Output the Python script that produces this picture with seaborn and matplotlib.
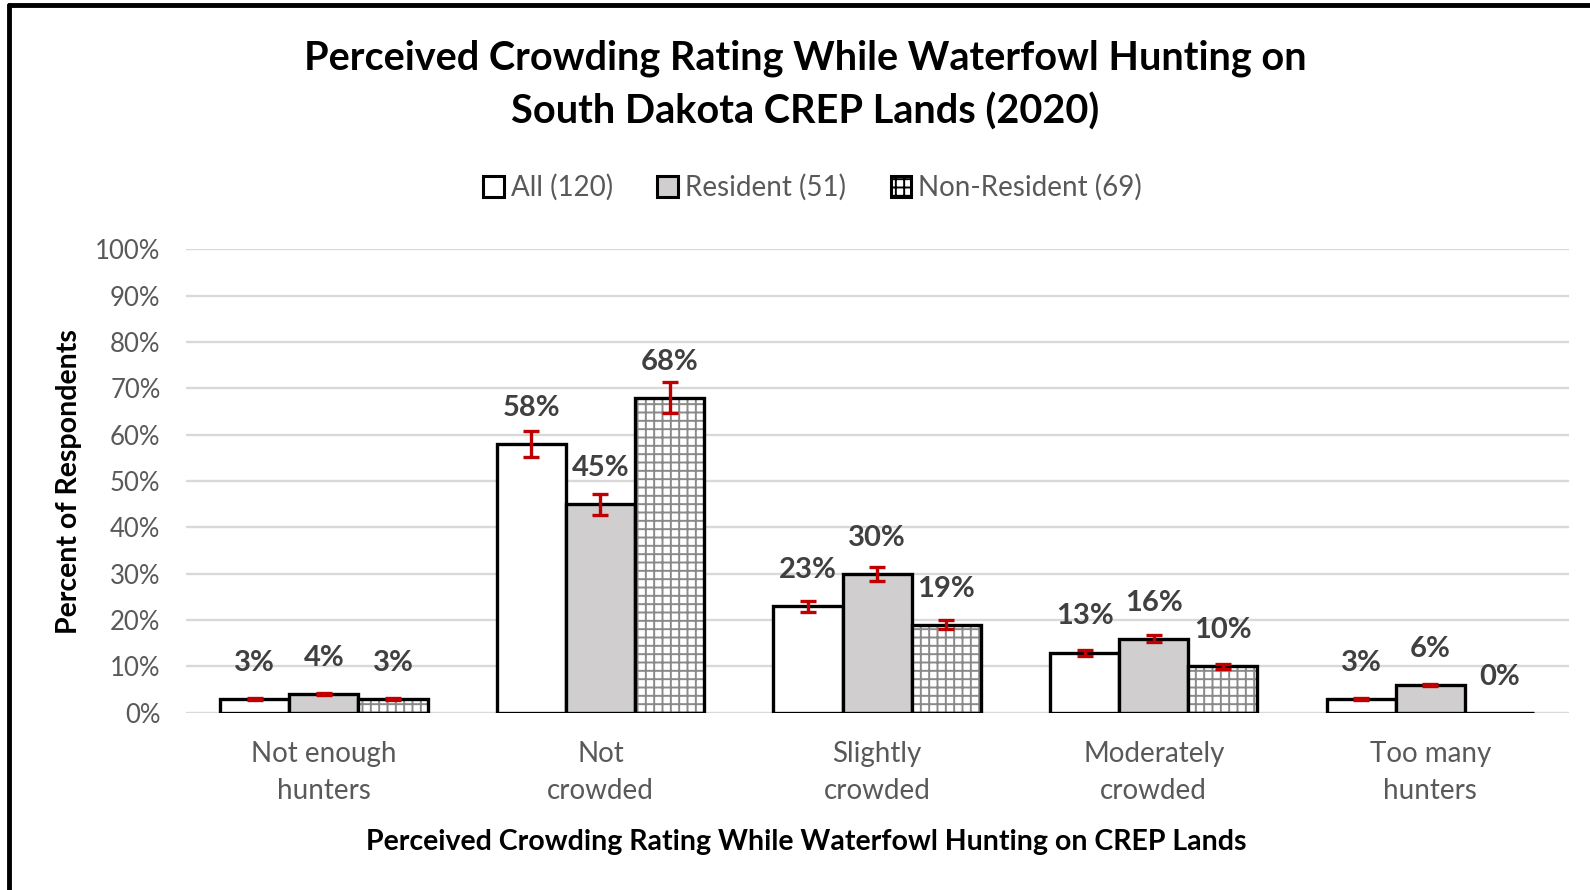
import numpy as np
import pandas as pd
import seaborn as sns
import matplotlib.pyplot as plt
from matplotlib.patches import Patch, Rectangle
from matplotlib.lines import Line2D

# chart data
categories = ["Not enough\nhunters", "Not\ncrowded", "Slightly\ncrowded",
              "Moderately\ncrowded", "Too many\nhunters"]
series = ["All (120)", "Resident (51)", "Non-Resident (69)"]
all_pct = [3, 58, 23, 13, 3]
resident_pct = [4, 45, 30, 16, 6]
nonresident_pct = [3, 68, 19, 10, 0]
# error bar half-lengths (percentage points)
all_err = [0.15, 2.9, 1.15, 0.65, 0.15]
resident_err = [0.2, 2.25, 1.5, 0.8, 0.3]
nonresident_err = [0.15, 3.4, 0.95, 0.5, 0.0]

values = [all_pct, resident_pct, nonresident_pct]
errors = [all_err, resident_err, nonresident_err]

rows = []
for s, vals in zip(series, values):
    for c, v in zip(categories, vals):
        rows.append({"category": c, "group": s, "pct": v})
df = pd.DataFrame(rows)

sns.set_theme(style="white")
plt.rcParams['font.family'] = ['Lato', 'DejaVu Sans']
plt.rcParams['hatch.linewidth'] = 1.4

fig = plt.figure(figsize=(15.9, 8.9), dpi=100)
ax = fig.add_axes([0.1167, 0.1991, 0.8699, 0.5207])

fills = ["white", "#d0cece", "white"]
sns.barplot(data=df, x="category", y="pct", hue="group", order=categories,
            hue_order=series, palette=fills, width=0.75, errorbar=None,
            edgecolor="black", linewidth=2.4, saturation=1, legend=False,
            ax=ax, zorder=3)

# hatch the non-resident bars: gray grid, then black outline on top
for i, bar in enumerate(ax.patches):
    if i // len(categories) == 2:
        bar.set_hatch("++")
        bar.set_edgecolor("#8a8a8a")
        bar.set_linewidth(0.8)
        ax.add_patch(Rectangle(bar.get_xy(), bar.get_width(), bar.get_height(),
                               fill=False, edgecolor="black", linewidth=2.4, zorder=4))

# error bars and labels
for k in range(len(series)):
    bars = ax.patches[k * len(categories):(k + 1) * len(categories)]
    for bar, v, e in zip(bars, values[k], errors[k]):
        xc = bar.get_x() + bar.get_width() / 2
        if v > 0:
            ax.errorbar(xc, v, yerr=e, color="#c00000", elinewidth=2.4,
                        capsize=6, capthick=2.4, zorder=5)
        ax.annotate(f"{v}%", (xc, v), xytext=(0, 26), textcoords="offset points",
                    ha="center", va="center", fontsize=21, fontweight="bold",
                    color="#404040")

ax.set_ylim(0, 100)
ax.set_xlim(-0.5, 4.5)
ax.set_yticks(range(0, 101, 10))
ax.set_yticklabels([f"{t}%" for t in range(0, 101, 10)])
ax.yaxis.grid(True, color="#d9d9d9", linewidth=1.7, zorder=0)
ax.set_axisbelow(True)
for sp in ax.spines.values():
    sp.set_visible(False)
ax.tick_params(axis="y", length=0, labelsize=18.5, colors="#595959", pad=18)
ax.tick_params(axis="x", length=0, labelsize=20, colors="#595959", pad=20)
for lbl in ax.get_xticklabels():
    lbl.set_linespacing(1.55)
ax.set_xlabel("")
ax.set_ylabel("")

fig.text(0.5065, 0.9045, "Perceived Crowding Rating While Waterfowl Hunting on\nSouth Dakota CREP Lands (2020)",
         ha="center", va="center", fontsize=28.5, fontweight="bold", color="black", linespacing=1.5)
fig.text(0.507, 0.0544, "Perceived Crowding Rating While Waterfowl Hunting on CREP Lands",
         ha="center", va="center", fontsize=20.5, fontweight="bold", color="black")
fig.text(0.0434, 0.459, "Percent of Respondents", rotation=90, ha="center", va="center",
         fontsize=20.5, fontweight="bold", color="black")

handles = [Patch(facecolor="white", edgecolor="black", linewidth=2.2),
           Patch(facecolor="#d0cece", edgecolor="black", linewidth=2.2),
           Patch(facecolor="white", edgecolor="black", linewidth=2.2, hatch="++")]
fig.legend(handles, series, loc="center", bbox_to_anchor=(0.511, 0.789), ncol=3,
           frameon=False, fontsize=20, labelcolor="#595959", handlelength=0.75,
           handleheight=0.75, handletextpad=0.25, columnspacing=1.6)

# frame visible on the left and top edges of the picture
fig.add_artist(Line2D([0.0057, 0.0057], [0, 0.9944], color="black", linewidth=3.5,
                      transform=fig.transFigure))
fig.add_artist(Line2D([0.0057, 1.0], [0.9944, 0.9944], color="black", linewidth=3.5,
                      transform=fig.transFigure))

fig.savefig("out.png", dpi=100)
